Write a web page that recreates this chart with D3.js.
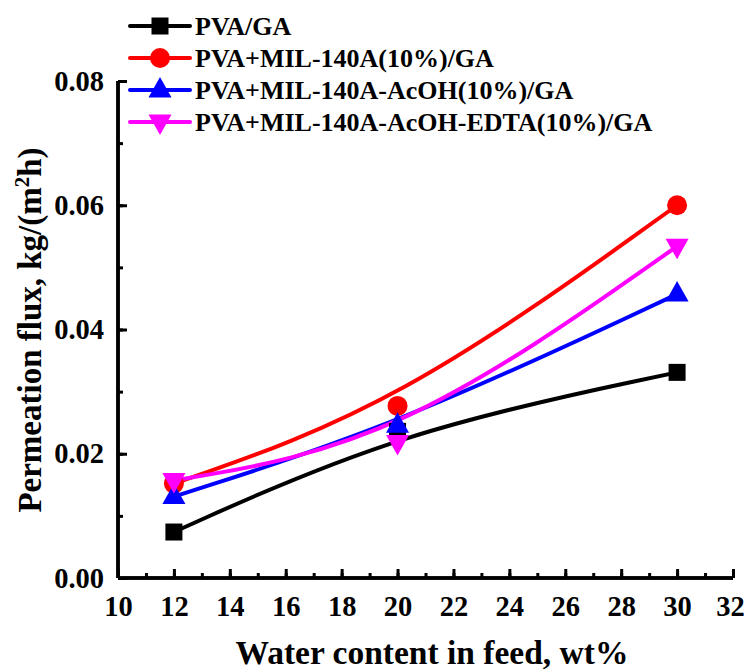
<!DOCTYPE html>
<html><head><meta charset="utf-8">
<script src="https://cdn.jsdelivr.net/npm/d3@7"></script>
<style>body{margin:0;background:#fff}svg{display:block}</style>
</head><body><svg id="c" width="746" height="671"></svg>
<script>
const waterContent = [12, 20, 30];
const seriesNames = ["PVA/GA", "PVA+MIL-140A(10%)/GA", "PVA+MIL-140A-AcOH(10%)/GA", "PVA+MIL-140A-AcOH-EDTA(10%)/GA"];
const fluxPVA = [0.0074, 0.0236, 0.0331];
const fluxMIL = [0.0152, 0.0277, 0.0600];
const fluxAcOH = [0.0131, 0.0246, 0.0457];
const fluxEDTA = [0.0157, 0.0218, 0.0534];
const seriesColors = ["#000000", "#ff0000", "#0000ff", "#ff00ff"];
const seriesSymbols = ["square", "circle", "triangle", "triangleDown"];
const xTicks = [10,12,14,16,18,20,22,24,26,28,30,32];
const yTicks = [0.00,0.02,0.04,0.06,0.08];

const FONT = "Liberation Serif";
const svg = d3.select("#c");
const x = d3.scaleLinear().domain([10, 32]).range([118, 733]);
const y = d3.scaleLinear().domain([0, 0.08]).range([578, 81]);

const series = [fluxPVA, fluxMIL, fluxAcOH, fluxEDTA].map((v, i) => ({
  name: seriesNames[i], color: seriesColors[i], sym: seriesSymbols[i],
  pts: waterContent.map((w, j) => [w, v[j]])
}));

function marker(g, sym, color, cx, cy) {
  if (sym === "square") g.append("rect").attr("x", cx-8.5).attr("y", cy-8.5).attr("width", 17).attr("height", 17).attr("fill", color);
  else if (sym === "circle") g.append("circle").attr("cx", cx).attr("cy", cy).attr("r", 10).attr("fill", color);
  else if (sym === "triangle") g.append("path").attr("d", `M${cx},${cy-13}L${cx+11.5},${cy+7.5}L${cx-11.5},${cy+7.5}Z`).attr("fill", color);
  else g.append("path").attr("d", `M${cx},${cy+13}L${cx+11.5},${cy-7.5}L${cx-11.5},${cy-7.5}Z`).attr("fill", color);
}

// axes
const xMinor = d3.range(10, 33, 1);
const yMinor = d3.range(0, 0.0801, 0.01);
const axG = svg.append("g");
const xAxisMinor = d3.axisBottom(x).tickValues(xMinor).tickSize(-5).tickFormat("");
const xAxisMajor = d3.axisBottom(x).tickValues(xTicks).tickSize(-9).tickPadding(18).tickFormat(d3.format("d"));
const yAxisMinor = d3.axisLeft(y).tickValues(yMinor).tickSize(-5).tickFormat("");
const yAxisMajor = d3.axisLeft(y).tickValues(yTicks).tickSize(-9).tickPadding(14).tickFormat(d3.format(".2f"));
[ [xAxisMinor, "x"], [xAxisMajor, "x"], [yAxisMinor, "y"], [yAxisMajor, "y"] ].forEach(([ax, t]) => {
  const g = axG.append("g").attr("transform", t === "x" ? "translate(0,578)" : "translate(118,0)").call(ax);
  g.attr("font-family", FONT).attr("font-weight", "bold").attr("font-size", 28.5);
  g.select(".domain").attr("stroke", "#000").attr("stroke-width", 3.5).attr("d", t === "x" ? "M118,0H733" : "M0,578V81");
  g.selectAll(".tick line").attr("stroke", "#000").attr("stroke-width", 3);
  g.selectAll(".tick text").attr("fill", "#000");
  if (t === "x") g.selectAll(".tick text").filter(d => d === 32).attr("dx", -3);
});

// lines
const line = d3.line().x(d => x(d[0])).y(d => y(d[1])).curve(d3.curveBasis);
const plotG = svg.append("g");
series.forEach(s => {
  plotG.append("path").attr("d", line(s.pts)).attr("fill", "none").attr("stroke", s.color).attr("stroke-width", 4);
});
series.forEach(s => {
  s.pts.forEach(p => marker(plotG, s.sym, s.color, x(p[0]), y(p[1])));
});

// legend
const lg = svg.append("g");
series.forEach((s, i) => {
  const cy = 26 + i * 32;
  lg.append("line").attr("x1", 130).attr("x2", 190).attr("y1", cy).attr("y2", cy).attr("stroke", s.color).attr("stroke-width", 4).attr("stroke-linecap","round");
  marker(lg, s.sym, s.color, 160, cy);
  lg.append("text").attr("x", 195).attr("y", cy + 8.5).attr("font-family", FONT).attr("font-weight", "bold").attr("font-size", 26).attr("fill", "#000").text(s.name);
});

// titles
svg.append("text").attr("x", 432).attr("y", 664).attr("text-anchor", "middle").attr("font-family", FONT).attr("font-weight", "bold").attr("font-size", 33.5).attr("fill", "#000").text("Water content in feed, wt%");
const yt = svg.append("text").attr("transform", "translate(41,330) rotate(-90)").attr("text-anchor", "middle").attr("font-family", FONT).attr("font-weight", "bold").attr("font-size", 33).attr("fill", "#000");
yt.append("tspan").text("Permeation flux, kg/(m");
yt.append("tspan").attr("dy", -12).attr("font-size", 21).text("2");
yt.append("tspan").attr("dy", 12).text("h)");
</script></body></html>
